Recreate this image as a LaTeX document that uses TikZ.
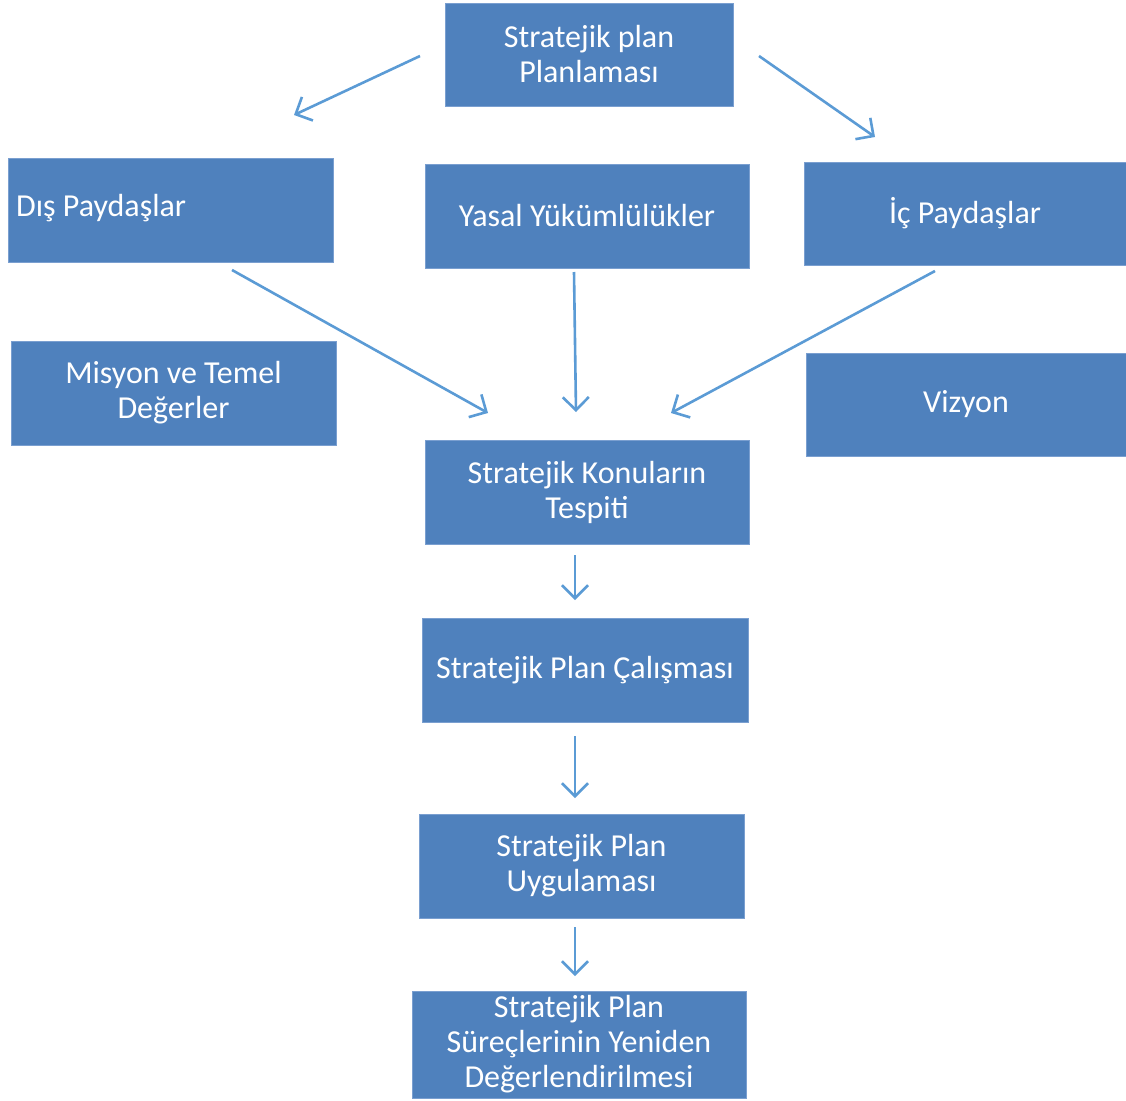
\documentclass[tikz,border=0pt]{standalone}
\usepackage{fontspec}
\setmainfont{Carlito}
\usetikzlibrary{arrows.meta}
\definecolor{boxfill}{HTML}{4F81BD}
\definecolor{boxedge}{HTML}{7A9FD0}
\definecolor{arrowc}{HTML}{5B9BD5}
\begin{document}
\begin{tikzpicture}[x=1pt,y=-1pt,
  box/.style={draw=boxedge,line width=0.8pt,fill=boxfill,text=white,inner sep=0pt,
    font=\fontsize{32}{35}\selectfont,align=center},
  conn/.style={draw=arrowc,line width=2.6pt,-{Straight Barb[length=13pt,width=26pt,line width=2.6pt]}}]
\useasboundingbox (0,0) rectangle (1126,1100);
\newcommand{\bx}[6]{\node[box,minimum width=#4-#2,minimum height=#5-#3] (#1) at ({(#2+#4)/2},{(#3+#5)/2}) {#6};}
\bx{top}{445}{3}{733}{106}{Stratejik plan\\Planlaması}
\bx{dis}{8}{158}{333}{262}{}
\node[text=white,font=\fontsize{32}{35}\selectfont,anchor=west,inner sep=0pt] (distext) at (16,208) {Dış Paydaşlar};
\bx{yasal}{425}{164}{749}{268}{Yasal Yükümlülükler}
\bx{ic}{804}{162}{1126}{265}{İç Paydaşlar}
\bx{misyon}{11}{341}{336}{445}{Misyon ve Temel\\Değerler}
\bx{vizyon}{806}{353}{1126}{456}{Vizyon}
\bx{konu}{425}{440}{749}{544}{Stratejik Konuların\\Tespiti}
\bx{calis}{422}{618}{748}{722}{Stratejik Plan Çalışması}
\bx{uyg}{419}{814}{744}{918}{Stratejik Plan\\Uygulaması}
\bx{deg}{412}{991}{746}{1098}{Stratejik Plan\\Süreçlerinin Yeniden\\Değerlendirilmesi}
\coordinate (a1s) at (420,56); \coordinate (a1e) at (294,115);
\coordinate (a2s) at (759,56); \coordinate (a2e) at (875,137);
\coordinate (a3s) at (232,270); \coordinate (a3e) at (488,413);
\coordinate (a4s) at (574,272); \coordinate (a4e) at (576,412);
\coordinate (a5s) at (935,271); \coordinate (a5e) at (671,413);
\coordinate (a6s) at (575,555); \coordinate (a6e) at (575,600);
\coordinate (a7s) at (575,736); \coordinate (a7e) at (575,798);
\coordinate (a8s) at (575,927); \coordinate (a8e) at (575,976);
\draw[conn] (a1s) -- (a1e);
\draw[conn] (a2s) -- (a2e);
\draw[conn] (a3s) -- (a3e);
\draw[conn] (a4s) -- (a4e);
\draw[conn] (a5s) -- (a5e);
\draw[conn] (a6s) -- (a6e);
\draw[conn] (a7s) -- (a7e);
\draw[conn] (a8s) -- (a8e);
\end{tikzpicture}
\end{document}
